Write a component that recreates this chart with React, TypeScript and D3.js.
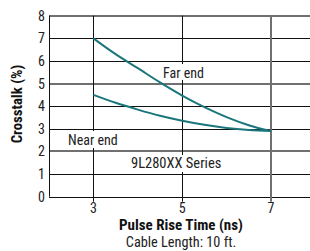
import React from "react";
import * as d3 from "d3";

const xTicks = [3, 5, 7];
const yTicks = [0, 1, 2, 3, 4, 5, 6, 7, 8];
const farX = [3, 3.5, 4, 4.5, 5, 5.5, 6, 6.5, 7];
const farY = [7, 6.3, 5.68, 5.05, 4.47, 3.96, 3.52, 3.16, 2.9];
const nearX = [3, 3.5, 4, 4.5, 5, 5.5, 6, 6.5, 7];
const nearY = [4.5, 4.15, 3.85, 3.58, 3.36, 3.18, 3.04, 2.95, 2.9];

const W = 310;
const H = 251;
const FONT = "'Liberation Sans Narrow', 'Arial Narrow', 'Roboto Condensed', sans-serif";

export default function App() {
  const x = d3.scaleLinear().domain([2, 8]).range([49, 315.4]);
  const y = d3.scaleLinear().domain([0, 8]).range([196.7, 15.7]);
  const line = d3
    .line<[number, number]>()
    .x((d) => x(d[0]))
    .y((d) => y(d[1]))
    .curve(d3.curveMonotoneX);
  const far = farX.map((v, i) => [v, farY[i]] as [number, number]);
  const near = nearX.map((v, i) => [v, nearY[i]] as [number, number]);
  const teal = "#1b767c";
  const gray = (v: number) => v % 3 === 2;
  const px = (v: number) => Math.round(v) + 0.5;

  return (
    <svg
      width={W}
      height={H}
      style={{ position: "absolute", left: 0, top: 0, background: "#fff" }}
      fontFamily={FONT}
    >
      {yTicks.map((t) => (
        <line
          key={"h" + t}
          x1={49}
          x2={W}
          y1={gray(t) ? Math.round(y(t)) : px(y(t))}
          y2={gray(t) ? Math.round(y(t)) : px(y(t))}
          stroke={gray(t) ? "#707070" : "#111"}
          strokeWidth={gray(t) ? 2 : 1}
        />
      ))}
      {xTicks.map((t) => (
        <line
          key={"v" + t}
          x1={t === 7 ? Math.round(x(t)) : px(x(t))}
          x2={t === 7 ? Math.round(x(t)) : px(x(t))}
          y1={y(8)}
          y2={y(0) + 5}
          stroke={t === 7 ? "#707070" : "#111"}
          strokeWidth={t === 7 ? 2 : 1}
        />
      ))}
      <line x1={49.5} x2={49.5} y1={y(8)} y2={y(0)} stroke="#111" strokeWidth={1} />
      <path d={line(far) || ""} fill="none" stroke={teal} strokeWidth={2} />
      <path d={line(near) || ""} fill="none" stroke={teal} strokeWidth={2} />

      <rect x={160} y={64} width={44} height={16} fill="#fff" />
      <text x={163} y={77.5} fontSize={14} fill="#222">Far end</text>
      <rect x={65} y={131} width={50} height={17} fill="#fff" />
      <text x={68} y={145} fontSize={14} fill="#222">Near end</text>
      <rect x={128} y={155} width={97} height={17} fill="#fff" />
      <text x={131} y={168} fontSize={14.5} fill="#222">9L280XX Series</text>

      {yTicks.map((t) => (
        <text key={"yl" + t} x={45} y={y(t) + 5} fontSize={14} textAnchor="end" fill="#222">
          {t}
        </text>
      ))}
      {xTicks.map((t) => (
        <text key={"xl" + t} x={x(t)} y={213} fontSize={14} textAnchor="middle" fill="#222">
          {t}
        </text>
      ))}
      <text x={181} y={229.5} fontSize={15} fontWeight="bold" textAnchor="middle" fill="#111">
        Pulse Rise Time (ns)
      </text>
      <text x={181} y={246.5} fontSize={14.3} textAnchor="middle" fill="#222">
        Cable Length: 10 ft.
      </text>
      <text
        transform="translate(22,104) rotate(-90)"
        fontSize={14.8}
        fontWeight="bold"
        textAnchor="middle"
        fill="#111"
      >
        Crosstalk (%)
      </text>
    </svg>
  );
}
